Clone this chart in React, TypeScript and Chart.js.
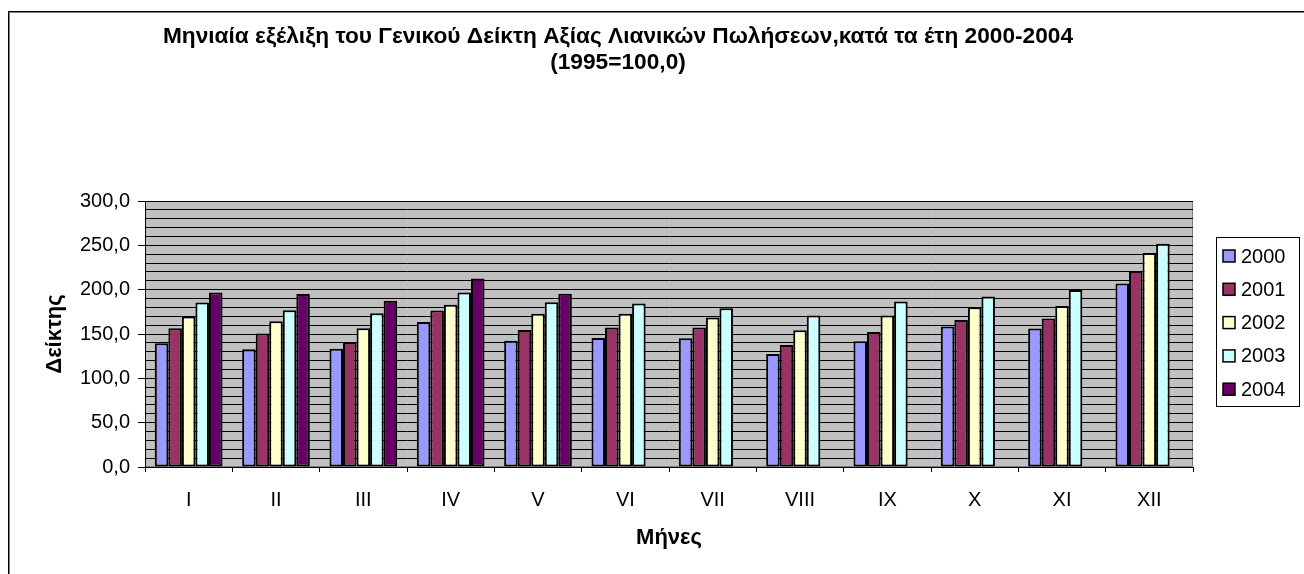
import React, { useEffect, useRef } from 'react';
import { Chart, registerables } from 'chart.js';

Chart.register(...registerables);

const months = ['I', 'II', 'III', 'IV', 'V', 'VI', 'VII', 'VIII', 'IX', 'X', 'XI', 'XII'];
const years = ['2000', '2001', '2002', '2003', '2004'];
const values2000 = [139.5, 132.7, 133.5, 163.6, 142.5, 145.5, 145.2, 127.5, 141.8, 158.4, 156.1, 207.0];
const values2001 = [156.5, 150.5, 141.0, 176.5, 154.6, 157.2, 157.2, 137.6, 152.3, 165.9, 167.4, 221.0];
const values2002 = [169.7, 164.4, 156.5, 182.9, 172.7, 172.7, 168.6, 154.2, 170.8, 180.2, 181.7, 241.3];
const values2003 = [185.5, 176.8, 173.5, 196.8, 185.9, 184.4, 179.1, 170.8, 186.7, 192.3, 199.5, 251.9];
const values2004 = [196.8, 195.0, 187.4, 212.7, 195.3, null, null, null, null, null, null, null];
const seriesColors = ['#9999FF', '#993366', '#FFFFCC', '#CCFFFF', '#660066'];
const titleLines = [
  'Μηνιαία εξέλιξη του Γενικού Δείκτη Αξίας Λιανικών Πωλήσεων,κατά τα έτη 2000-2004',
  '(1995=100,0)',
];
const xAxisTitle = 'Μήνες';
const yAxisTitle = 'Δείκτης';
const yMin = 0;
const yMax = 300;
const yMinorStep = 10;
const yMajorStep = 50;

const FONT = '"Liberation Sans", Arial, sans-serif';

const fmt = (v: number) => v.toFixed(1).replace('.', ',');

export default function App() {
  const ref = useRef<HTMLCanvasElement | null>(null);

  useEffect(() => {
    if (!ref.current) return;
    const seriesValues = [values2000, values2001, values2002, values2003, values2004];

    const bgPlugin = {
      id: 'plotBg',
      beforeDraw(chart: any) {
        const { ctx, chartArea: a } = chart;
        ctx.save();
        ctx.fillStyle = '#C0C0C0';
        ctx.fillRect(a.left, a.top, a.right - a.left, a.bottom - a.top);
        ctx.strokeStyle = '#808080';
        ctx.lineWidth = 1;
        ctx.strokeRect(a.left + 0.5, a.top + 0.5, a.right - a.left - 1, a.bottom - a.top - 1);
        ctx.restore();
      },
    };

    const titlePlugin = {
      id: 'customTitle',
      afterDraw(chart: any) {
        const { ctx } = chart;
        ctx.save();
        ctx.fillStyle = '#000';
        ctx.font = `bold 22.7px ${FONT}`;
        ctx.textAlign = 'center';
        ctx.textBaseline = 'middle';
        ctx.fillText(titleLines[0], 618, 37);
        ctx.fillText(titleLines[1], 618, 63);
        ctx.restore();
      },
    };

    const legendPlugin = {
      id: 'boxLegend',
      afterDraw(chart: any) {
        const { ctx, chartArea: a } = chart;
        const x0 = a.right + 23;
        const y0 = 237;
        const w = 83;
        const h = 169;
        ctx.save();
        ctx.fillStyle = '#fff';
        ctx.fillRect(x0, y0, w, h);
        ctx.strokeStyle = '#000';
        ctx.lineWidth = 1;
        ctx.strokeRect(x0 + 0.5, y0 + 0.5, w, h);
        ctx.font = `20px ${FONT}`;
        ctx.textBaseline = 'middle';
        ctx.textAlign = 'left';
        chart.data.datasets.forEach((ds: any, i: number) => {
          const cy = y0 + 19 + i * 33.3;
          ctx.fillStyle = ds.backgroundColor;
          ctx.fillRect(x0 + 7, cy - 6, 12, 12);
          ctx.strokeStyle = '#000';
          ctx.lineWidth = 1.5;
          ctx.strokeRect(x0 + 7, cy - 6, 12, 12);
          ctx.fillStyle = '#000';
          ctx.fillText(ds.label, x0 + 25, cy + 1);
        });
        ctx.restore();
      },
    };

    const chart = new Chart(ref.current, {
      type: 'bar',
      data: {
        labels: months,
        datasets: years.map((y, i) => ({
          label: y,
          data: seriesValues[i],
          backgroundColor: seriesColors[i],
          borderColor: '#000',
          borderWidth: 2,
          borderSkipped: false,
          categoryPercentage: 0.775,
          barPercentage: 1,
        })),
      },
      options: {
        animation: false,
        responsive: false,
        maintainAspectRatio: false,
        layout: { padding: { left: 40, right: 111, top: 201, bottom: 0 } },
        plugins: {
          legend: { display: false },
          title: { display: false },
          tooltip: { enabled: false },
        },
        scales: {
          x: {
            afterFit(scale: any) {
              scale.height = 107;
            },
            grid: {
              display: true,
              drawOnChartArea: false,
              drawTicks: true,
              tickLength: 5,
              color: '#000',
              offset: true,
            },
            border: { display: true, color: '#000', width: 1 },
            ticks: {
              color: '#000',
              font: { family: FONT, size: 20 },
              padding: 16,
              maxRotation: 0,
              autoSkip: false,
            },
            title: {
              display: true,
              text: xAxisTitle,
              color: '#000',
              font: { family: FONT, size: 22, weight: 'bold' },
              padding: { top: 0, bottom: 23 },
            },
          },
          y: {
            min: yMin,
            max: yMax,
            afterFit(scale: any) {
              scale.width = 105;
            },
            grid: {
              color: '#000',
              lineWidth: 1,
              drawTicks: true,
              tickLength: 7,
              tickColor: (c: any) =>
                c.tick && c.tick.value % yMajorStep === 0 ? '#000' : 'rgba(0,0,0,0)',
            },
            border: { display: true, color: '#000', width: 1 },
            ticks: {
              stepSize: yMinorStep,
              autoSkip: false,
              color: '#000',
              font: { family: FONT, size: 20 },
              padding: 8,
              callback: (v: any) => (Number(v) % yMajorStep === 0 ? fmt(Number(v)) : ''),
            },
            title: {
              display: true,
              text: yAxisTitle,
              color: '#000',
              font: { family: FONT, size: 22, weight: 'bold' },
              padding: { top: 2, bottom: 0 },
            },
          },
        },
      },
      plugins: [bgPlugin, titlePlugin, legendPlugin],
    } as any);

    return () => chart.destroy();
  }, []);

  return (
    <div style={{ position: 'fixed', left: 0, top: 0, width: 1304, height: 574, overflow: 'hidden', background: '#fff' }}>
      <div
        style={{
          position: 'absolute',
          left: 8,
          top: 11,
          width: 1400,
          height: 700,
          borderLeft: '1px solid #000',
          borderTop: '1px solid #000',
          boxShadow: 'inset 1px 1px 0 #808080',
        }}
      />
      <canvas ref={ref} width={1304} height={574} style={{ position: 'absolute', left: 0, top: 0, width: 1304, height: 574 }} />
    </div>
  );
}
